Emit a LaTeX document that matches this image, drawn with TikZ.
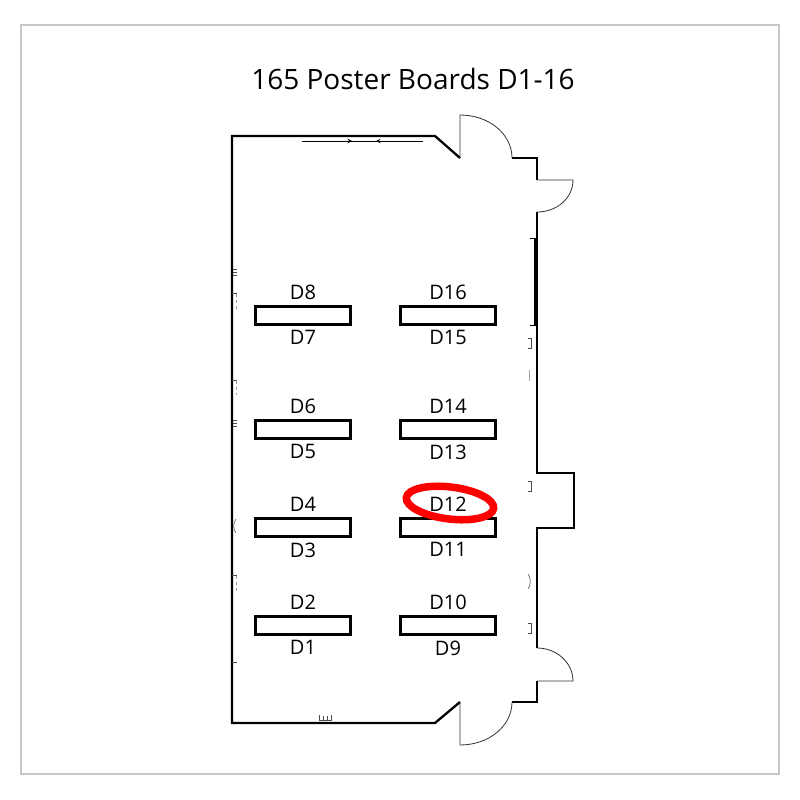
\documentclass[tikz,border=0pt]{standalone}
\usepackage{fontspec}
\setmainfont{Open Sans}
\usetikzlibrary{positioning}

\begin{document}
\begin{tikzpicture}[x=1pt, y=-1pt,
            boardnode/.style={rectangle, draw=black, line width=3pt, minimum width=95pt, minimum height=18pt, inner sep=0pt},
            labelnode/.style={font=\fontsize{20}{20}\selectfont, inner sep=0pt},
            wall/.style={line width=2.3pt, line join=miter},
            swing/.style={line width=0.8pt, draw=black!80},
            wallmark/.style={line width=0.6pt, draw=black!70},
            ]
            \useasboundingbox (0,0) rectangle (800,800);
            \draw[black!22, line width=1.5pt] (21,25) rectangle (779,774);
            \node[font=\fontsize{28}{28}\selectfont] (title) at (413,79) {165 Poster Boards D1-16};
            % walls
            \draw[wall] (460,158) -- (435,136) -- (232,136) -- (232,723) -- (435,723) -- (460,702);
            \draw[wall] (512,158) -- (537,158) -- (537,180);
            \draw[wall] (537,212) -- (537,473) -- (574,473) -- (574,528) -- (537,528) -- (537,648);
            \draw[wall] (537,681) -- (537,702) -- (512,702);
            \draw[line width=3pt] (535.5,238) -- (535.5,325);
            \draw[line width=1pt] (530,238) -- (537,238) (530,325) -- (537,325);
            % doors
            \draw[swing] (460,158) -- (460,115) .. controls (489,115) and (512,134) .. (512,158);
            \draw[swing] (537,180) -- (573,180) .. controls (573,198) and (557,212) .. (537,212);
            \draw[swing] (537,648) .. controls (557,648) and (573,663) .. (573,681) -- (537,681);
            \draw[swing] (460,702) -- (460,745) .. controls (489,745) and (512,726) .. (512,702);
            % sliding door
            \draw[line width=1pt] (302,141) -- (423,141);
            \draw[->, >=stealth, line width=1pt] (302,141) -- (352,141);
            \draw[->, >=stealth, line width=1pt] (423,141) -- (376,141);
            % small marks on the walls
            \draw[wallmark] (233,269) -- (237,269) (233,272) -- (237,272) (233,275) -- (237,275);
            \draw[wallmark] (232,293) -- (237,293);
            \draw[wallmark, black!40, dashed] (236,294) -- (236,312);
            \draw[wallmark] (232,380) -- (237,380);
            \draw[wallmark, black!40, dashed] (236,381) -- (236,395);
            \draw[wallmark] (233,420) -- (237,420) (233,423) -- (237,423) (233,426) -- (237,426);
            \draw[wallmark] (236,519) .. controls (233,523) and (233,529) .. (236,533);
            \draw[wallmark] (232,575) -- (237,575);
            \draw[wallmark, black!40, dashed] (236,576) -- (236,592);
            \draw[wallmark] (232,662) -- (237,662);
            \draw[wallmark] (319,715) -- (319,720) -- (331,720) -- (331,715) (323,716) -- (323,720) (327,716) -- (327,720);
            \draw[wallmark] (528,338) -- (531,338) -- (531,348) -- (528,348);
            \draw[wallmark, black!35] (529,370) -- (529,381);
            \draw[wallmark] (528,481) -- (531,481) -- (531,491) -- (528,491);
            \draw[wallmark] (528,574) .. controls (531,578) and (531,585) .. (528,589);
            \draw[wallmark] (528,623) -- (531,623) -- (531,633) -- (528,633);
            % boards
            \node[boardnode] (b78) at (303,315) {};
            \node[boardnode] (b56) at (303,429) {};
            \node[boardnode] (b34) at (303,527) {};
            \node[boardnode] (b12) at (303,625) {};
            \node[boardnode] (b1516) at (448,315) {};
            \node[boardnode] (b1314) at (448,429) {};
            \node[boardnode] (b1112) at (448,527) {};
            \node[boardnode] (b910) at (448,625) {};
            % labels
            \node[labelnode, above=5pt of b78] (d8) {D8};
            \node[labelnode, below=5pt of b78] (d7) {D7};
            \node[labelnode, above=5pt of b56] (d6) {D6};
            \node[labelnode, below=5pt of b56] (d5) {D5};
            \node[labelnode, above=5pt of b34] (d4) {D4};
            \node[labelnode, below=5pt of b34] (d3) {D3};
            \node[labelnode, above=5pt of b12] (d2) {D2};
            \node[labelnode, below=5pt of b12] (d1) {D1};
            \node[labelnode, above=5pt of b1516] (d16) {D16};
            \node[labelnode, below=5pt of b1516] (d15) {D15};
            \node[labelnode, above=5pt of b1314] (d14) {D14};
            \node[labelnode, below=5pt of b1314] (d13) {D13};
            \node[labelnode, above=5pt of b1112] (d12) {D12};
            \node[labelnode, below=5pt of b1112] (d11) {D11};
            \node[labelnode, above=5pt of b910] (d10) {D10};
            \node[labelnode, below=5pt of b910] (d9) {D9};
            % circled board
            \draw[red, line width=7.5pt] (450,503) ellipse [x radius=44, y radius=16, rotate=-7];
        \end{tikzpicture}
\end{document}
